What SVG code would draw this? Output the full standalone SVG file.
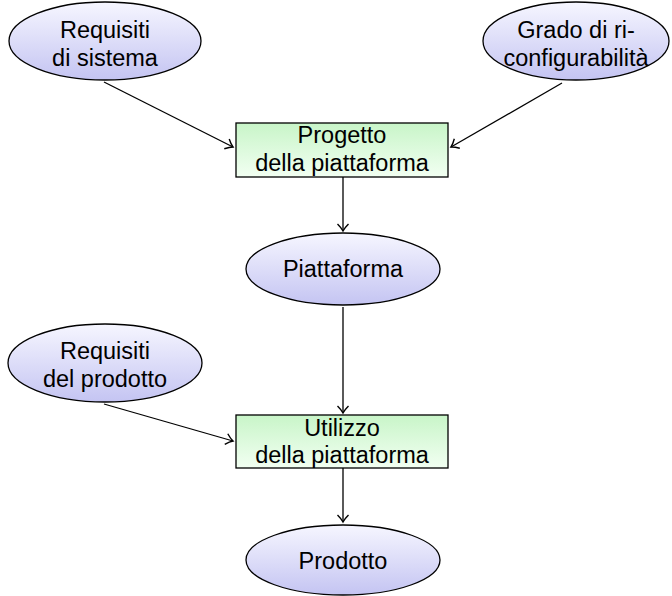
<svg xmlns="http://www.w3.org/2000/svg" width="672" height="596" viewBox="0 0 672 596">
<defs>
<linearGradient id="ell" x1="0" y1="0" x2="0" y2="1">
<stop offset="0" stop-color="#f6f6ff"/>
<stop offset="1" stop-color="#c4c4f2"/>
</linearGradient>
<linearGradient id="box" x1="0" y1="0" x2="0" y2="1">
<stop offset="0" stop-color="#c8f5c8"/>
<stop offset="1" stop-color="#f2fff2"/>
</linearGradient>
<marker id="arr" markerWidth="14" markerHeight="14" refX="10" refY="7" orient="auto" markerUnits="userSpaceOnUse">
<path d="M3,1.5 Q7,5.5 10,7 Q7,8.5 3,12.5" fill="none" stroke="#000" stroke-width="1.4"/>
</marker>
</defs>
<style>
.e{fill:url(#ell);stroke:#000;stroke-width:1.3}
.b{fill:url(#box);stroke:#000;stroke-width:1.3}
text{font-family:"Liberation Sans",Arial,sans-serif;font-size:23.5px;fill:#000;text-anchor:middle}
.c{fill:none;stroke:#000;stroke-width:1.3;marker-end:url(#arr)}
</style>
<g id="connectors">
<line class="c" x1="104" y1="82" x2="233" y2="147"/>
<line class="c" x1="562" y1="83" x2="451" y2="147"/>
<line class="c" x1="343" y1="177" x2="343" y2="231"/>
<line class="c" x1="343" y1="307" x2="343" y2="413"/>
<line class="c" x1="104" y1="404" x2="233" y2="441"/>
<line class="c" x1="343" y1="468" x2="343" y2="522"/>
</g>
<g id="req_sistema">
<ellipse class="e" cx="105" cy="41" rx="96" ry="39"/>
<text x="105" y="38">Requisiti</text>
<text x="105" y="66">di sistema</text>
</g>
<g id="grado">
<ellipse class="e" cx="576" cy="41" rx="93" ry="39"/>
<text x="576" y="38">Grado di ri-</text>
<text x="576" y="66">configurabilità</text>
</g>
<g id="progetto">
<rect class="b" x="236" y="123" width="212" height="54"/>
<text x="342" y="143">Progetto</text>
<text x="342" y="171">della piattaforma</text>
</g>
<g id="piattaforma">
<ellipse class="e" cx="343" cy="269" rx="97" ry="36"/>
<text x="343" y="277">Piattaforma</text>
</g>
<g id="req_prodotto">
<ellipse class="e" cx="105" cy="363" rx="97" ry="39"/>
<text x="105" y="359">Requisiti</text>
<text x="105" y="387">del prodotto</text>
</g>
<g id="utilizzo">
<rect class="b" x="236" y="415" width="212" height="53"/>
<text x="342" y="436">Utilizzo</text>
<text x="342" y="463">della piattaforma</text>
</g>
<g id="prodotto">
<ellipse class="e" cx="343" cy="560" rx="97" ry="35"/>
<text x="343" y="569">Prodotto</text>
</g>
</svg>
